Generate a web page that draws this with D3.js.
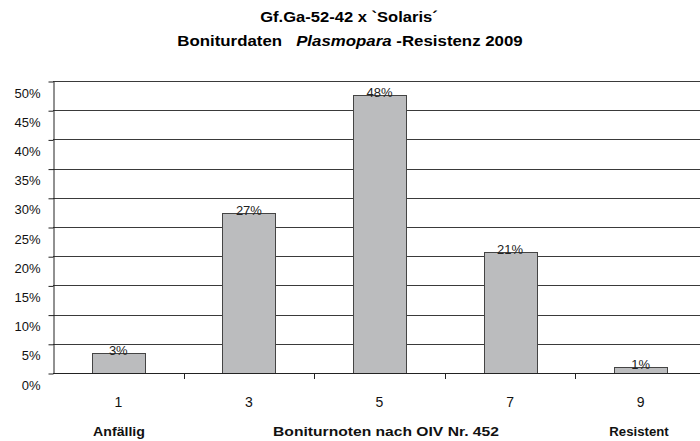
<!DOCTYPE html>
<html>
<head>
<meta charset="utf-8">
<script src="https://cdn.jsdelivr.net/npm/d3@7"></script>
<style>
  body { margin: 0; background: #fff; }
  svg { display: block; font-family: "Liberation Sans", Arial, sans-serif; }
</style>
</head>
<body>
<div id="main"></div>
<script>
// values (share of plants per score)
var categories = ["1", "3", "5", "7", "9"];
var values = [0.034, 0.274, 0.476, 0.207, 0.011];
var yTicks = [0, 0.05, 0.1, 0.15, 0.2, 0.25, 0.3, 0.35, 0.4, 0.45, 0.5];
var titleLines = ["Gf.Ga-52-42 x `Solaris´"];
var axisNotes = [
    { text: "Anfällig", cx: 119, w: 52 },
    { text: "Boniturnoten nach OIV Nr. 452", cx: 386, w: 226 },
    { text: "Resistent", cx: 639, w: 60 }
];

var width = 700, height = 441;
var plotLeft = 53, plotTop = 81, plotBottom = 373;
var step = 130.6;

var svg = d3.select("#main").append("svg")
    .attr("width", width)
    .attr("height", height);

// the source picture is stretched sideways, so squeeze text to a width
function stretch(sel, cx, cy, w) {
    var bb = sel.node().getBBox();
    sel.attr("x", 0).attr("y", 0)
        .attr("text-anchor", "middle")
        .attr("transform", "translate(" + cx + "," + cy + ") scale(" + (w / bb.width) + ",1)");
}

// title
var t1 = svg.append("text")
    .attr("font-size", 14).attr("font-weight", "bold")
    .text(titleLines[0]);
stretch(t1, 349, 22, 178);

var t2 = svg.append("text")
    .attr("font-size", 14).attr("font-weight", "bold");
t2.append("tspan").text("Boniturdaten\u00a0\u00a0 ");
t2.append("tspan").attr("font-style", "italic").text("Plasmopara");
t2.append("tspan").text(" -Resistenz 2009");
stretch(t2, 350, 46, 346);

var pin = 1 - 53 / step;
var x = d3.scaleBand()
    .domain(categories)
    .range([plotLeft, plotLeft + step * categories.length])
    .paddingInner(pin)
    .paddingOuter(pin / 2);

var y = d3.scaleLinear()
    .domain([0, 0.5])
    .range([plotBottom, plotTop]);

// gridlines
svg.append("g")
    .selectAll("line")
    .data(yTicks.filter(d => d > 0))
    .enter().append("line")
    .attr("x1", plotLeft).attr("x2", width)
    .attr("y1", d => Math.round(y(d)) + 0.5)
    .attr("y2", d => Math.round(y(d)) + 0.5)
    .attr("stroke", "#3a3a3a")
    .attr("stroke-width", 1);

// bars
svg.append("g")
    .selectAll("rect")
    .data(values)
    .enter().append("rect")
    .attr("x", (d, i) => Math.round(x(categories[i])) + 0.5)
    .attr("y", d => Math.round(y(d)) + 0.5)
    .attr("width", Math.round(x.bandwidth()))
    .attr("height", d => Math.round(plotBottom - y(d)))
    .attr("fill", "#bbbcbe")
    .attr("stroke", "#444")
    .attr("stroke-width", 1);

// data labels
svg.append("g")
    .selectAll("text")
    .data(values)
    .enter().append("text")
    .attr("x", (d, i) => x(categories[i]) + x.bandwidth() / 2)
    .attr("y", d => y(d) + 2)
    .attr("text-anchor", "middle")
    .attr("font-size", 13)
    .attr("fill", "#222")
    .text(d => Math.round(d * 100) + "%");

// y axis
var yAxis = svg.append("g")
    .attr("transform", "translate(" + (plotLeft + 0.5) + ",0.5)")
    .call(d3.axisLeft(y)
        .tickValues(yTicks)
        .tickFormat(d3.format(".0%"))
        .tickSize(5)
        .tickSizeOuter(0)
        .tickPadding(8));
yAxis.select(".domain").attr("stroke", "#222");
yAxis.selectAll(".tick line").attr("stroke", "#222");
yAxis.selectAll(".tick text")
    .attr("dy", "1.2em")
    .attr("font-size", 13)
    .attr("font-family", "Liberation Sans, Arial, sans-serif")
    .attr("fill", "#111");

// x axis: baseline with boundary ticks
var gap = (x.step() - x.bandwidth()) / 2;
svg.append("line")
    .attr("x1", plotLeft).attr("x2", width)
    .attr("y1", plotBottom + 0.5).attr("y2", plotBottom + 0.5)
    .attr("stroke", "#222");
svg.append("g")
    .selectAll("line")
    .data(categories.slice(1))
    .enter().append("line")
    .attr("x1", d => Math.round(x(d) - gap) + 0.5)
    .attr("x2", d => Math.round(x(d) - gap) + 0.5)
    .attr("y1", plotBottom).attr("y2", plotBottom + 6)
    .attr("stroke", "#222");

var xAxis = svg.append("g")
    .attr("transform", "translate(0," + plotBottom + ")")
    .call(d3.axisBottom(x).tickSize(0).tickPadding(24));
xAxis.select(".domain").remove();
xAxis.selectAll(".tick text")
    .attr("font-size", 14)
    .attr("font-family", "Liberation Sans, Arial, sans-serif")
    .attr("fill", "#111");

// notes under the axis
svg.append("g")
    .selectAll("text")
    .data(axisNotes)
    .enter().append("text")
    .attr("font-size", 13)
    .attr("font-weight", "bold")
    .attr("fill", "#111")
    .text(d => d.text)
    .each(function (d) { stretch(d3.select(this), d.cx, 436, d.w); });
</script>
</body>
</html>
